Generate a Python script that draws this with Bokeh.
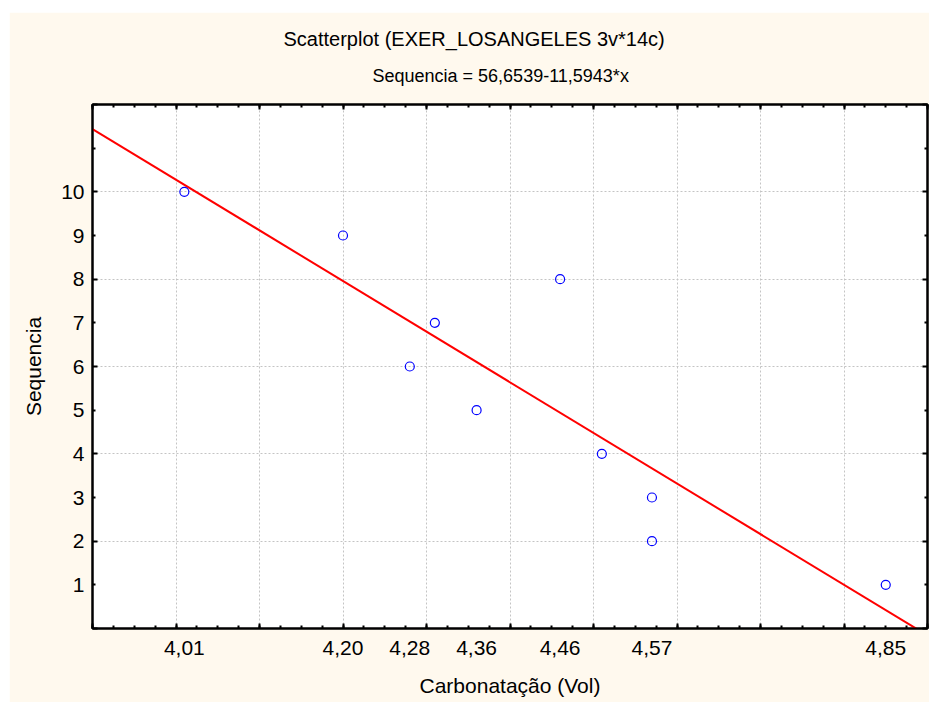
import numpy as np
from bokeh.plotting import figure
from bokeh.models import FixedTicker, LinearAxis, Title, Range1d, ColumnDataSource
from bokeh.embed import file_html
from bokeh.resources import INLINE

# ---- data ----
carbonatacao = [4.01, 4.20, 4.28, 4.31, 4.36, 4.46, 4.51, 4.57, 4.57, 4.85]
sequencia = [10, 9, 6, 7, 5, 8, 4, 3, 2, 1]

intercept = 56.6539
slope = -11.5943

x_tick_labels = [4.01, 4.20, 4.28, 4.36, 4.46, 4.57, 4.85]
y_tick_labels = [1, 2, 3, 4, 5, 6, 7, 8, 9, 10]

x_major_ticks = [3.9, 4.0, 4.1, 4.2, 4.3, 4.4, 4.5, 4.6, 4.7, 4.8, 4.9]
x_grid_ticks = [4.0, 4.1, 4.2, 4.3, 4.4, 4.5, 4.6, 4.7, 4.8]
y_major_ticks = [0, 2, 4, 6, 8, 10, 12]
y_minor_ticks = [1, 3, 5, 7, 9, 11]
y_grid_ticks = [2, 4, 6, 8, 10]

X_MIN, X_MAX = 3.9, 4.9
Y_MIN, Y_MAX = 0, 12

title_text = "Scatterplot (EXER_LOSANGELES 3v*14c)"
subtitle_text = "Sequencia = 56,6539-11,5943*x"
x_label = "Carbonatação (Vol)"
y_label = "Sequencia"

# ---- styles ----
FONT = "Liberation Sans"
FS_TICK = "21px"
FS_LABEL = "21px"
FS_TITLE = "20px"
FS_SUB = "18px"
CREAM = "#FFF9EE"

x_minor_ticks = list(np.round(np.arange(X_MIN, X_MAX + 1e-9, 0.025), 3))

p = figure(width=920, height=690,
           x_range=Range1d(X_MIN, X_MAX), y_range=Range1d(Y_MIN, Y_MAX),
           x_axis_location=None, y_axis_location=None,
           output_backend="svg", toolbar_location=None,
           min_border_left=83, min_border_right=2,
           min_border_top=92, min_border_bottom=74,
           background_fill_color="white", border_fill_color=CREAM,
           outline_line_color="black", outline_line_width=2)
p.styles = {"margin-left": "9px", "margin-top": "12px"}

# grids
p.xgrid.ticker = FixedTicker(ticks=x_grid_ticks)
p.ygrid.ticker = FixedTicker(ticks=y_grid_ticks)
for g in (p.xgrid, p.ygrid):
    g.grid_line_color = "#C4C4C4"
    g.grid_line_dash = "2 2"
    g.grid_line_width = 1


def tick_axis(major, minor, major_in, minor_in):
    ax = LinearAxis(ticker=FixedTicker(ticks=major, minor_ticks=minor))
    ax.major_label_text_font_size = "0px"
    ax.major_label_standoff = 0
    ax.major_label_overrides = {t: "" for t in major}
    ax.major_tick_in = major_in
    ax.major_tick_out = 0
    ax.minor_tick_in = minor_in
    ax.minor_tick_out = 0
    ax.major_tick_line_width = 2
    ax.minor_tick_line_width = 2
    ax.major_tick_line_color = "black"
    ax.minor_tick_line_color = "black"
    ax.axis_line_width = 2
    ax.axis_line_color = "black"
    return ax


def label_axis(ticks, text, standoff, label_standoff):
    ax = LinearAxis(ticker=FixedTicker(ticks=ticks, minor_ticks=[]))
    ax.axis_line_color = None
    ax.major_tick_line_color = None
    ax.minor_tick_line_color = None
    ax.major_tick_in = 0
    ax.major_tick_out = 0
    ax.major_label_standoff = standoff
    ax.major_label_text_font = FONT
    ax.major_label_text_font_size = FS_TICK
    ax.major_label_text_color = "black"
    ax.axis_label = text
    ax.axis_label_text_font = FONT
    ax.axis_label_text_font_size = FS_LABEL
    ax.axis_label_text_font_style = "normal"
    ax.axis_label_text_color = "black"
    ax.axis_label_standoff = label_standoff
    return ax


# x axes
p.add_layout(tick_axis(x_major_ticks, x_minor_ticks, 5, 3), "below")
xlab = label_axis(x_tick_labels, x_label, 12, 16)
xlab.major_label_overrides = {t: f"{t:.2f}".replace(".", ",") for t in x_tick_labels}
p.add_layout(xlab, "below")
p.add_layout(tick_axis(x_major_ticks, x_minor_ticks, 5, 3), "above")

# y axes
p.add_layout(tick_axis(y_major_ticks, y_minor_ticks, 5, 3), "left")
ylab = label_axis(y_tick_labels, y_label, 8, 13)
ylab.major_label_overrides = {t: str(t) for t in y_tick_labels}
p.add_layout(ylab, "left")
p.add_layout(tick_axis(y_major_ticks, y_minor_ticks, 5, 3), "right")

# regression line
xl = np.array([X_MIN, X_MAX])
line_src = ColumnDataSource(dict(x=xl, y=intercept + slope * xl))
p.line("x", "y", source=line_src, line_color="#FF0000", line_width=2)

# points
pts = ColumnDataSource(dict(x=carbonatacao, y=sequencia))
p.scatter("x", "y", source=pts, marker="circle", size=9,
          fill_color=None, line_color="#0000FF", line_width=1.2)

# titles
sub = Title(text=subtitle_text, align="left", offset=280,
            text_font=FONT, text_font_size=FS_SUB, text_font_style="normal",
            text_color="black", standoff=37)
p.add_layout(sub, "above")
tit = Title(text=title_text, align="left", offset=191,
            text_font=FONT, text_font_size=FS_TITLE, text_font_style="normal",
            text_color="black", standoff=-8)
p.add_layout(tit, "above")

open("out.html", "w").write(file_html(p, INLINE))
